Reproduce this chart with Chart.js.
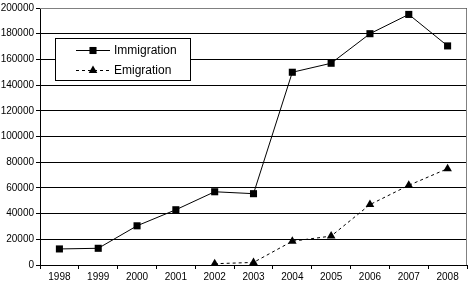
<!DOCTYPE html>
<html>
<head>
<meta charset="utf-8">
<script src="https://cdn.jsdelivr.net/npm/chart.js@4"></script>
<style>
html,body{margin:0;padding:0;background:#fff;}
#wrap{width:472px;height:284px;position:relative;}
</style>
</head>
<body>
<div id="wrap"><canvas id="c" width="472" height="284"></canvas></div>
<script>
const years = ['1998','1999','2000','2001','2002','2003','2004','2005','2006','2007','2008'];
const immigration = [12500, 13000, 30500, 43000, 57000, 55500, 150000, 157000, 180000, 195000, 170500];
const emigration = [null, null, null, null, 1000, 2000, 18500, 22500, 47000, 62000, 75000];
const seriesNames = ['Immigration', 'Emigration'];

const FONT = 'Liberation Sans, Arial, sans-serif';

const frame = {
  id: 'frame',
  afterDraw(chart) {
    const {ctx, chartArea: a} = chart;
    ctx.save();
    ctx.strokeStyle = '#808080';
    ctx.lineWidth = 1;
    ctx.beginPath();
    ctx.moveTo(a.left, a.top + 0.5);
    ctx.lineTo(a.right - 0.5, a.top + 0.5);
    ctx.lineTo(a.right - 0.5, a.bottom);
    ctx.stroke();
    ctx.restore();
    // legend box
    const x0 = 55.5, y0 = 38.5, w = 135, h = 42;
    ctx.save();
    ctx.fillStyle = '#fff';
    ctx.fillRect(x0, y0, w, h);
    ctx.strokeStyle = '#000';
    ctx.lineWidth = 1;
    ctx.strokeRect(x0, y0, w, h);
    ctx.font = '12px ' + FONT;
    ctx.fillStyle = '#000';
    ctx.textBaseline = 'middle';
    const rows = [y0 + 11, y0 + 31];
    chart.data.datasets.forEach((ds, i) => {
      const y = Math.round(rows[i]) + 0.5;
      ctx.beginPath();
      ctx.setLineDash(ds.borderDash || []);
      ctx.moveTo(76, y);
      ctx.lineTo(110, y);
      ctx.stroke();
      ctx.setLineDash([]);
      Chart.helpers.drawPoint(ctx, {pointStyle: ds.pointStyle, rotation: 0, radius: 5, borderWidth: 0}, 93, y);
      ctx.fillText(ds.label, 114, y);
    });
    ctx.restore();
  }
};

new Chart(document.getElementById('c'), {
  type: 'line',
  data: {
    labels: years,
    datasets: [
      {label: seriesNames[0], data: immigration, borderColor: '#000', backgroundColor: '#000', borderWidth: 1,
       pointStyle: 'rect', pointRadius: 5, pointBorderWidth: 0, tension: 0},
      {label: seriesNames[1], data: emigration, borderColor: '#000', backgroundColor: '#000', borderWidth: 1,
       borderDash: [3, 3], pointStyle: 'triangle', pointRadius: 5, pointBorderWidth: 0, tension: 0}
    ]
  },
  options: {
    responsive: false,
    animation: false,
    devicePixelRatio: 1,
    layout: {padding: {top: 5, right: 2, left: 0, bottom: 0}},
    plugins: {legend: {display: false}, tooltip: {enabled: false}},
    scales: {
      x: {
        offset: true,
        grid: {offset: true, drawOnChartArea: false, drawTicks: true, tickLength: 4, color: '#000'},
        border: {color: '#000', width: 1},
        ticks: {color: '#000', font: {family: FONT, size: 10}, padding: 2, maxRotation: 0, autoSkip: false},
        afterFit(s) { s.height = 19; }
      },
      y: {
        min: 0, max: 200000,
        grid: {color: '#000', lineWidth: 1, drawTicks: true, tickLength: 4},
        border: {color: '#000', width: 1},
        ticks: {stepSize: 20000, color: '#000', font: {family: FONT, size: 10}, padding: 2,
                callback: v => String(v)},
        afterFit(s) { s.width = 40; }
      }
    }
  },
  plugins: [frame]
});
</script>
</body>
</html>
